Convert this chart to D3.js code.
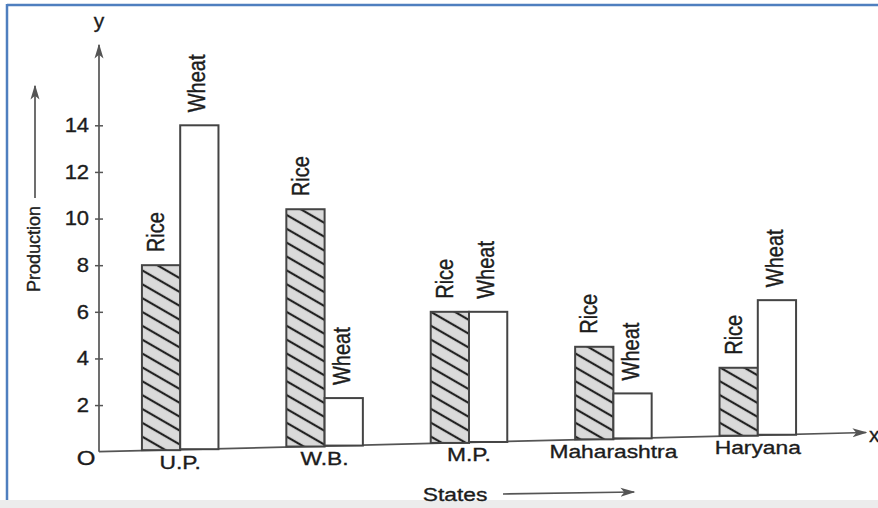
<!DOCTYPE html>
<html>
<head>
<meta charset="utf-8">
<script src="https://cdn.jsdelivr.net/npm/d3@7"></script>
<style>
  body { margin: 0; background: #fff; }
  svg { display: block; font-family: "Liberation Sans", Arial, sans-serif; }
  svg text { stroke: #1c1c1c; stroke-width: 0.35px; }
</style>
</head>
<body>
<div id="chart"></div>
<script>
const states = ['U.P.', 'W.B.', 'M.P.', 'Maharashtra', 'Haryana'];
const crops = ['Rice', 'Wheat'];
const rice = [8, 10.4, 6, 4.5, 3.6];
const wheat = [14, 2.3, 6, 2.5, 6.5];
const yTicks = [2, 4, 6, 8, 10, 12, 14];

const width = 878;
const height = 508;
const x0 = 99;          // y axis position
const tilt = 0.025;     // the scanned baseline rises slightly to the right
const ink = '#1c1c1c';
const axisCol = '#555';

const svg = d3.select('#chart').append('svg').attr('width', width).attr('height', height);

// page frame like the screenshot
svg.append('rect').attr('x', 0).attr('y', 500).attr('width', width).attr('height', 8).attr('fill', '#ececec');
svg.append('line').attr('x1', 7).attr('x2', width).attr('y1', 5).attr('y2', 5)
    .attr('stroke', '#4f7fbf').attr('stroke-width', 2.5);
svg.append('line').attr('x1', 7).attr('x2', 7).attr('y1', 4).attr('y2', 500)
    .attr('stroke', '#4f7fbf').attr('stroke-width', 2.5);

const defs = svg.append('defs');
const pat = defs.append('pattern').attr('id', 'hatch').attr('patternUnits', 'userSpaceOnUse')
    .attr('width', 10).attr('height', 12).attr('patternTransform', 'rotate(30)');
pat.append('rect').attr('width', 10).attr('height', 12).attr('fill', '#dadada');
pat.append('line').attr('x1', 0).attr('x2', 10).attr('y1', 6).attr('y2', 6)
    .attr('stroke', '#222').attr('stroke-width', 2.2);

defs.append('marker').attr('id', 'arrow').attr('viewBox', '0 0 10 10')
    .attr('refX', 9).attr('refY', 5).attr('markerWidth', 15).attr('markerHeight', 15)
    .attr('markerUnits', 'userSpaceOnUse').attr('orient', 'auto')
    .append('path').attr('d', 'M0,2 L10,5 L0,8 L2.5,5 Z').attr('fill', axisCol);

const y = d3.scaleLinear().domain([0, 14]).range([451.7, 125.3]);
const x = d3.scaleBand().domain(states).range([108, 830]).paddingInner(0.47).paddingOuter(0.235);
const xs = d3.scaleBand().domain(crops).range([0, x.bandwidth()]);

function base(px) { return y(0) - tilt * (px - x0); }

// y axis
const yAxis = svg.append('g').attr('transform', `translate(${x0},0)`)
    .call(d3.axisLeft(y).tickValues(yTicks).tickSize(4).tickPadding(5));
yAxis.select('.domain').remove();
yAxis.selectAll('.tick line').attr('x1', 4).attr('x2', -4).attr('stroke', axisCol).attr('stroke-width', 1.5);
yAxis.selectAll('.tick text').attr('font-size', 20).attr('fill', ink)
    .attr('font-family', '"Liberation Sans", Arial, sans-serif')
    .attr('transform', 'scale(1.1,1)');
svg.append('line').attr('x1', x0).attr('x2', x0).attr('y1', y(0)).attr('y2', 45)
    .attr('stroke', axisCol).attr('stroke-width', 1.7).attr('marker-end', 'url(#arrow)');

// x axis (follows the tilted baseline)
svg.append('line').attr('x1', x0).attr('x2', 866).attr('y1', base(x0)).attr('y2', base(866))
    .attr('stroke', axisCol).attr('stroke-width', 1.7).attr('marker-end', 'url(#arrow)');

// bars
const rows = states.map((s, i) => ({ state: s, bars: [
    { crop: 'Rice', value: rice[i] },
    { crop: 'Wheat', value: wheat[i] }
] }));

const grp = svg.selectAll('.state').data(rows).join('g').attr('class', 'state')
    .attr('transform', d => `translate(${x(d.state)},0)`);

grp.selectAll('rect').data(d => d.bars.map(b => ({ ...b, state: d.state }))).join('rect')
    .attr('x', d => xs(d.crop))
    .attr('y', d => y(d.value))
    .attr('width', xs.bandwidth())
    .attr('height', d => base(x(d.state) + xs(d.crop) + xs.bandwidth() / 2) - y(d.value))
    .attr('fill', d => d.crop === 'Rice' ? 'url(#hatch)' : '#fff')
    .attr('stroke', '#444').attr('stroke-width', 2);

// rotated crop labels above bars
grp.selectAll('text.crop').data(d => d.bars).join('text').attr('class', 'crop')
    .attr('transform', d => {
        const cx = xs(d.crop) + xs.bandwidth() / 2 + (d.crop === 'Rice' ? -5 : -2);
        return `translate(${cx},${y(d.value) - 13}) scale(1.15,1) rotate(-90)`;
    })
    .attr('dy', '0.35em')
    .attr('font-size', 20).attr('fill', ink)
    .text(d => d.crop);

// state labels
svg.selectAll('text.stateLab').data(states).join('text').attr('class', 'stateLab')
    .attr('text-anchor', 'middle')
    .attr('transform', d => {
        const cx = x(d) + x.bandwidth() / 2;
        return `translate(${cx},${base(cx) + 19}) scale(1.2,1)`;
    })
    .attr('font-size', 19).attr('fill', ink)
    .text(d => d);

// axis letters and titles
svg.append('text').attr('x', x0).attr('y', 28).attr('text-anchor', 'middle')
    .attr('font-size', 21).attr('fill', ink).text('y');
svg.append('text').attr('transform', `translate(86,465) scale(1.2,1)`).attr('text-anchor', 'middle')
    .attr('font-size', 20).attr('fill', ink).text('O');
svg.append('text').attr('x', 869).attr('y', 442)
    .attr('font-size', 21).attr('fill', ink).text('x');

svg.append('text').attr('transform', 'translate(40,292) rotate(-90)')
    .attr('font-size', 18).attr('fill', ink).text('Production');
svg.append('line').attr('x1', 35).attr('x2', 35).attr('y1', 198).attr('y2', 86)
    .attr('stroke', axisCol).attr('stroke-width', 1.7).attr('marker-end', 'url(#arrow)');

svg.append('text').attr('transform', 'translate(455,501) scale(1.2,1)').attr('text-anchor', 'middle')
    .attr('font-size', 19).attr('fill', ink).text('States');
svg.append('line').attr('x1', 503).attr('x2', 634).attr('y1', 494).attr('y2', 492)
    .attr('stroke', axisCol).attr('stroke-width', 1.7).attr('marker-end', 'url(#arrow)');
</script>
</body>
</html>
